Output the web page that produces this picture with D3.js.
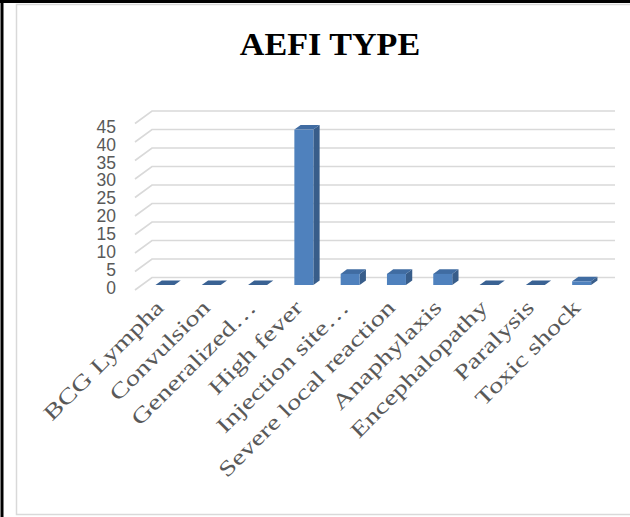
<!DOCTYPE html>
<html>
<head>
<meta charset="utf-8">
<script src="https://cdn.jsdelivr.net/npm/d3@7"></script>
<style>
  html, body { margin: 0; padding: 0; background: #fff; }
  svg { display: block; }
</style>
</head>
<body>
<svg id="chart" width="630" height="517"></svg>
<script>
// AEFI types and reported case counts
const categories = [
  "BCG Lympha", "Convulsion", "Generalized…", "High fever", "Injection site…",
  "Severe local reaction", "Anaphylaxis", "Encephalopathy", "Paralysis", "Toxic shock"
];
const counts = [0, 0, 0, 42, 3, 3, 3, 0, 0, 1];
const yTicks = [0, 5, 10, 15, 20, 25, 30, 35, 40, 45];
const chartTitle = "AEFI TYPE";

const serif = "'Bookman Old Style', 'Liberation Serif', 'Times New Roman', serif";

const svg = d3.select("#chart");

// Frame: dark rule on top/left, light chart-area border
svg.append("rect").attr("x", 0).attr("y", 0).attr("width", 630).attr("height", 517).attr("fill", "#fff");
svg.append("rect")
  .attr("x", 16.5).attr("y", 4.5).attr("width", 620).attr("height", 510)
  .attr("fill", "none").attr("stroke", "#d9d9d9").attr("stroke-width", 1.5);
svg.append("line").attr("x1", 0).attr("x2", 630).attr("y1", 1.5).attr("y2", 1.5)
  .attr("stroke", "#000").attr("stroke-width", 3);
svg.append("line").attr("x1", 2).attr("x2", 2).attr("y1", 0).attr("y2", 517)
  .attr("stroke", "#000").attr("stroke-width", 3);

// Oblique 3D projection: depth z in [0,1] shifts points right and up
const depthDX = 17, depthDY = -12.5;
const x = d3.scaleBand().domain(categories).range([135, 598]).paddingInner(0).paddingOuter(0);
const y = d3.scaleLinear().domain([0, 45]).range([290, 123.5]);
const labelY = d3.scaleLinear().domain([0, 45]).range([287.5, 126.5]);
const proj = (px, py, z) => [px + z * depthDX, py + z * depthDY];

const barFrac = 0.41;       // bar width as share of band
const zFront = 0.4, zBack = 0.77;

// Gridlines: side-wall diagonal plus back-wall horizontal
const grid = svg.append("g").attr("fill", "none").attr("stroke", "#d9d9d9").attr("stroke-width", 1.6);
yTicks.forEach(t => {
  const a = proj(x.range()[0], y(t), 0);
  const b = proj(x.range()[0], y(t), 1);
  const c = proj(x.range()[1], y(t), 1);
  grid.append("path").attr("d", d3.line()([a, b, c]));
});

// Y tick labels
svg.append("g").selectAll("text").data(yTicks).join("text")
  .attr("x", 116).attr("y", d => labelY(d))
  .attr("dy", "0.36em")
  .attr("text-anchor", "end")
  .attr("font-family", "'Liberation Sans', Arial, sans-serif")
  .attr("font-size", 17.5)
  .attr("fill", "#595959")
  .text(d => d);

// Bars as prisms: side, top, front faces
const colFront = "#4f81bd", colSide = "#385d8a", colTop = "#406ca2";
const bars = svg.append("g");
categories.forEach((c, i) => {
  const v = counts[i];
  const bw = x.bandwidth() * barFrac;
  const x0 = x(c) + (x.bandwidth() - bw) / 2;
  const x1 = x0 + bw;
  const yb = y(0), yt = y(v);
  const F = (px, py) => proj(px, py, zFront);
  const B = (px, py) => proj(px, py, zBack);
  const g = bars.append("g");
  if (v > 0) {
    g.append("path").attr("fill", colSide)
      .attr("d", d3.line()([F(x1, yb), B(x1, yb), B(x1, yt), F(x1, yt)]) + "Z");
  }
  g.append("path").attr("fill", v > 0 ? colTop : "#3a6293")
    .attr("d", d3.line()([F(x0, yt), B(x0, yt), B(x1, yt), F(x1, yt)]) + "Z");
  if (v > 0) {
    const p0 = F(x0, yt), p1 = F(x1, yb);
    g.append("rect").attr("fill", colFront)
      .attr("x", p0[0]).attr("y", p0[1])
      .attr("width", p1[0] - p0[0]).attr("height", p1[1] - p0[1]);
  }
});

// Category labels, rotated; widened to a broad book-face proportion
svg.append("g").selectAll("text").data(categories).join("text")
  .attr("transform", d => {
    const cx = proj(x(d) + x.bandwidth() / 2, y(0), zFront)[0];
    return `translate(${cx},${309}) rotate(-45) scale(1.33,1)`;
  })
  .attr("text-anchor", "end")
  .attr("font-family", serif)
  .attr("font-size", 21.5)
  .attr("fill", "#595959")
  .text(d => d);

// Title
svg.append("text")
  .attr("transform", "translate(330,55) scale(1.1,1)")
  .attr("text-anchor", "middle")
  .attr("font-family", serif)
  .attr("font-weight", "bold")
  .attr("font-size", 31)
  .attr("fill", "#000")
  .text(chartTitle);
</script>
</body>
</html>
